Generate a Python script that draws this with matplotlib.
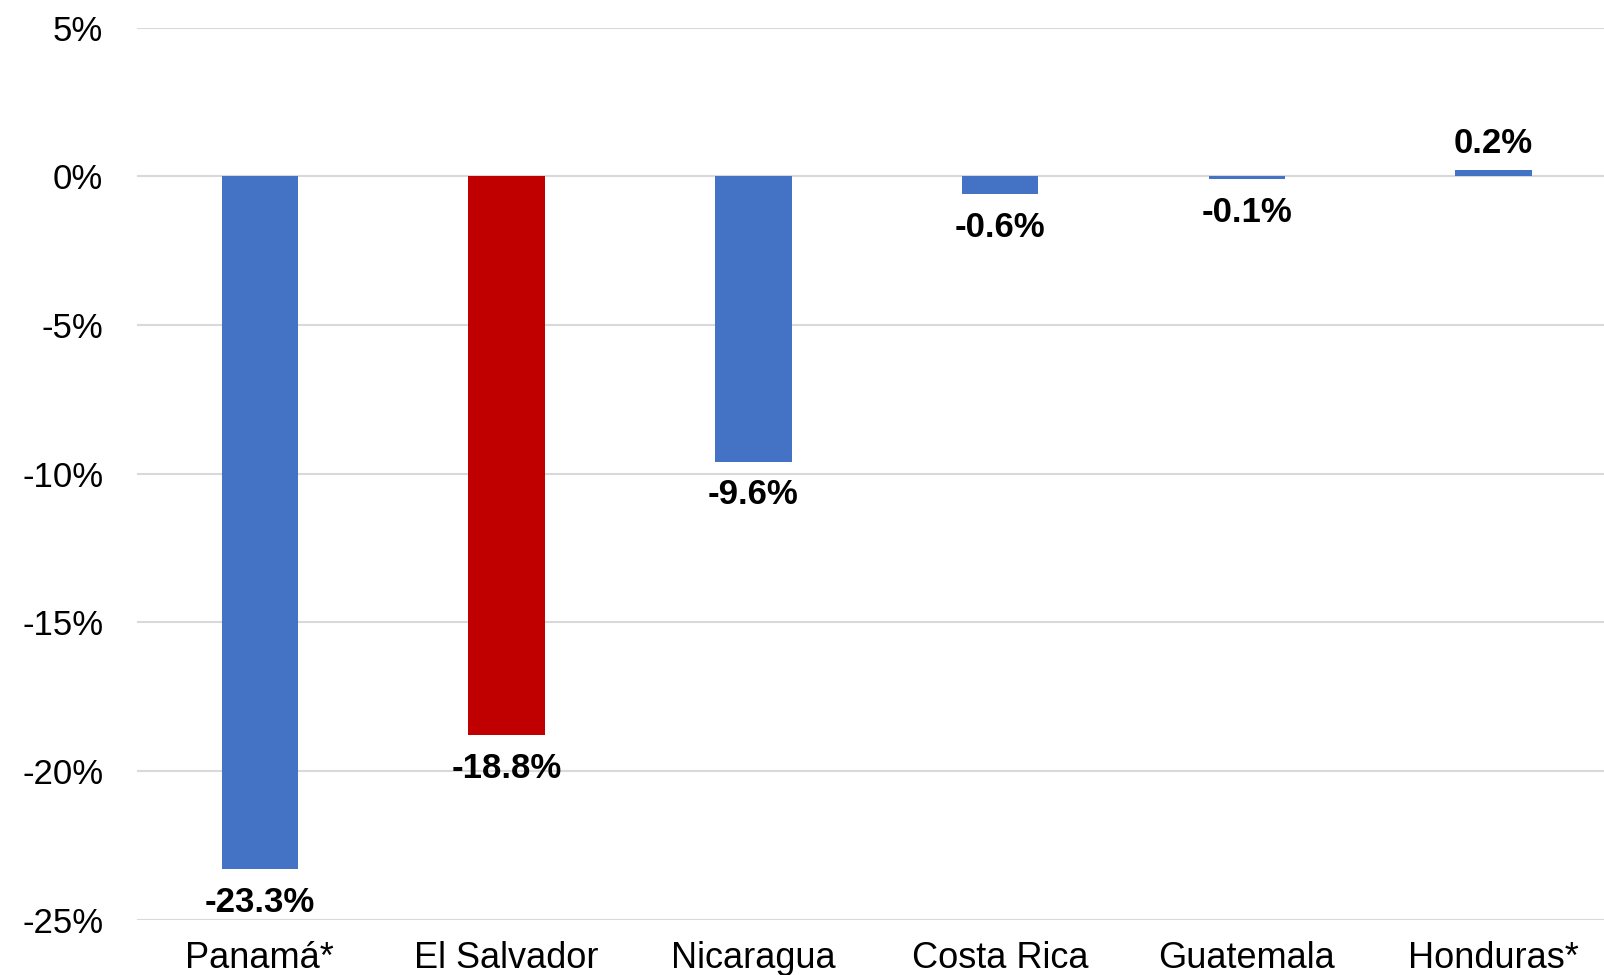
import matplotlib.pyplot as plt
import numpy as np

countries = ["Panamá*", "El Salvador", "Nicaragua", "Costa Rica", "Guatemala", "Honduras*"]
values = [-23.3, -18.8, -9.6, -0.6, -0.1, 0.2]
colors = ["#4472C4", "#C00000", "#4472C4", "#4472C4", "#4472C4", "#4472C4"]
yticks = [5, 0, -5, -10, -15, -20, -25]

plt.rcParams["font.family"] = ["Liberation Sans", "DejaVu Sans"]

fig = plt.figure(figsize=(16.04, 9.75), dpi=100)
ax = fig.add_axes([0.0851, 0.0567, 0.923, 0.915])

x = np.arange(len(countries))
bars = ax.bar(x, values, width=0.31, color=colors, zorder=3)

ax.set_xlim(-0.5, len(countries) - 0.5)
ax.set_ylim(-25, 5)
ax.set_yticks(yticks)
ax.set_yticklabels(["%d%%" % v for v in yticks])
ax.set_xticks(x)
ax.set_xticklabels(countries)
ax.tick_params(axis="y", length=0, pad=24, labelsize=25)
ax.tick_params(axis="x", length=0, pad=15, labelsize=26)
ax.grid(axis="y", color="#D9D9D9", linewidth=1.5, zorder=0)
for s in ax.spines.values():
    s.set_visible(False)

for xi, v in zip(x, values):
    if v < 0:
        ax.annotate("%.1f%%" % v, (xi, v), xytext=(0, -33), textcoords="offset pixels",
                    ha="center", va="center", fontsize=25, fontweight="bold")
    else:
        ax.annotate("%.1f%%" % v, (xi, v), xytext=(0, 27), textcoords="offset pixels",
                    ha="center", va="center", fontsize=25, fontweight="bold")

fig.savefig("out.png", dpi=100)
